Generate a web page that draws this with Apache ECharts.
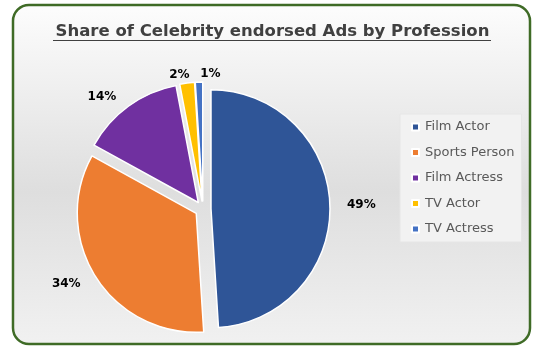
<!DOCTYPE html>
<html>
<head>
<meta charset="utf-8">
<script src="https://cdn.jsdelivr.net/npm/echarts@6/dist/echarts.min.js"></script>
<style>
html,body{margin:0;padding:0;background:#fff;}
#c{width:545px;height:356px;}
</style>
</head>
<body>
<div id="c"></div>
<script>
const titleText = 'Share of Celebrity endorsed Ads by Profession';
const categories = ['Film Actor', 'Sports Person', 'Film Actress', 'TV Actor', 'TV Actress'];
const shares = [49, 34, 14, 2, 1];
const colors = ['#2F5597', '#ED7D31', '#7030A0', '#FFC000', '#4472C4'];

const chart = echarts.init(document.getElementById('c'), null, {renderer: 'canvas'});

const labelNudges = {3: {dx: 9, dy: 4}, 4: {dx: 27, dy: 4}};

const data = categories.map((name, i) => ({name: name, value: shares[i], selected: true}));

chart.setOption({
  animation: false,
  color: colors,
  graphic: [
    {
      type: 'rect',
      z: -10,
      shape: {x: 13, y: 5, width: 517, height: 339, r: 16},
      style: {
        fill: new echarts.graphic.LinearGradient(0, 0, 0, 1, [
          {offset: 0, color: '#fdfdfd'},
          {offset: 0.55, color: '#dedede'},
          {offset: 1, color: '#f1f1f1'}
        ]),
        stroke: '#3f6b26',
        lineWidth: 2.5
      }
    },
    {
      type: 'line',
      shape: {x1: 53, y1: 40.5, x2: 491, y2: 40.5},
      style: {stroke: '#404040', lineWidth: 1.2}
    }
  ],
  title: {
    text: titleText,
    left: 'center',
    top: 18,
    textStyle: {
      fontFamily: 'DejaVu Sans',
      fontWeight: 'bold',
      fontSize: 16.5,
      color: '#404040'
    }
  },
  legend: {
    orient: 'vertical',
    left: 400,
    top: 114,
    padding: [6, 7, 6, 11],
    backgroundColor: '#f2f2f2',
    borderColor: '#e6e6e6',
    borderWidth: 1,
    icon: 'rect',
    itemWidth: 7,
    itemHeight: 7,
    itemGap: 11.5,
    textStyle: {
      fontFamily: 'DejaVu Sans',
      fontSize: 13,
      lineHeight: 14,
      color: '#595959',
      padding: [0, 0, 0, 1]
    },
    selectedMode: false,
    data: categories
  },
  series: [{
    type: 'pie',
    center: [203, 209],
    radius: 119,
    startAngle: 90,
    clockwise: true,
    selectedMode: 'multiple',
    selectedOffset: 8,
    avoidLabelOverlap: false,
    itemStyle: {borderColor: '#ffffff', borderWidth: 1.5},
    label: {
      show: true,
      position: 'outside',
      formatter: '{d}%',
      fontFamily: 'DejaVu Sans',
      fontWeight: 'bold',
      fontSize: 12,
      color: '#000000'
    },
    labelLine: {show: false, length: 12, length2: 0},
    labelLayout: function (params) {
      return labelNudges[params.dataIndex] || {};
    },
    emphasis: {disabled: true},
    data: data
  }]
});
</script>
</body>
</html>
